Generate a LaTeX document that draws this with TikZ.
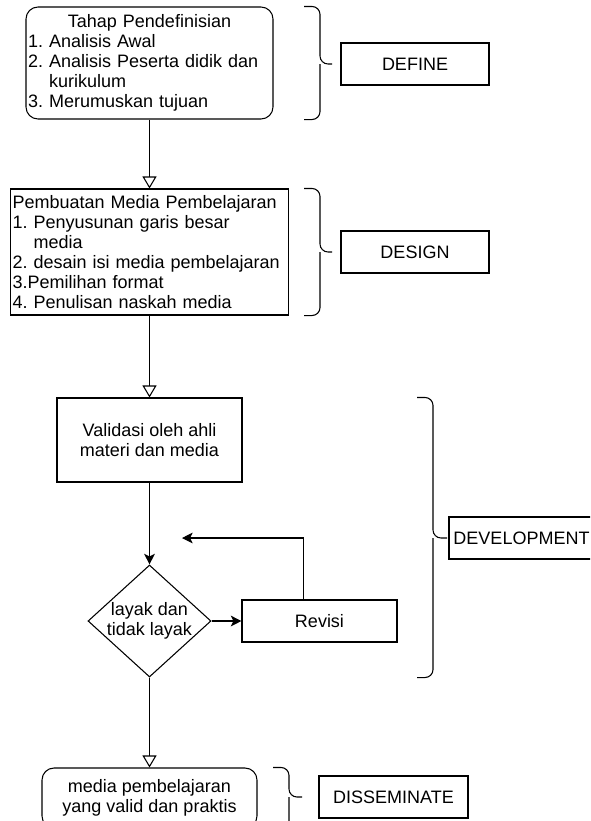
\documentclass[tikz,border=0pt]{standalone}
\usepackage{fontspec}
\setmainfont{Liberation Sans}
\frenchspacing
\usetikzlibrary{arrows.meta, shapes.geometric, calc}

\begin{document}
\begin{tikzpicture}[
  x=0.75pt, y=-0.75pt,
  font=\fontsize{13.5}{15}\selectfont,
  stagebox/.style={draw, line width=0.8pt, inner sep=1.5pt},
  phasebox/.style={draw, line width=0.8pt, minimum width=111pt, minimum height=31.5pt},
  decision/.style={draw, diamond, line width=0.8pt, inner sep=0pt},
  openarrow/.style={-{Triangle[open, width=10.5pt, length=9pt]}, line width=0.8pt},
  solidarrow/.style={-{Stealth[width=8pt, length=8pt, inset=2pt]}, line width=0.8pt},
  curly/.style={rounded corners=6pt, line width=0.8pt}]
    \path[use as bounding box, clip] (0,0) rectangle (590,821);
    % Main column: the four stages
    \node[stagebox, rounded corners=9pt, minimum width=185.25pt, minimum height=84pt,
      text width=182.25pt, align=left] (define) at (149.5,63)
      {\makebox[\linewidth]{Tahap Pendefinisian}\\
       1. Analisis Awal\\
       2. Analisis Peserta didik dan\\
       \hphantom{2. }kurikulum\\
       3. Merumuskan tujuan};
    \node[stagebox, minimum width=208.5pt, minimum height=94.5pt,
      text width=205.5pt, align=left] (design) at (149.5,252)
      {Pembuatan Media Pembelajaran\\
       1. Penyusunan garis besar\\
       \hphantom{1. }media\\
       2. desain isi media pembelajaran\\
       3.Pemilihan format\\
       4. Penulisan naskah media};
    \node[stagebox, minimum width=138.75pt, minimum height=63pt, align=center] (valid)
      at (149.5,440) {Validasi oleh ahli\\materi dan media};
    \node[decision, minimum width=92.25pt, minimum height=84pt,
      label={[align=center]center:{layak dan\\tidak layak}}] (cek) at (149.5,621) {};
    \node[stagebox, minimum width=116.25pt, minimum height=31.5pt] (revisi)
      at (319.5,621) {Revisi};
    \node[stagebox, rounded corners=9pt, minimum width=161.25pt, minimum height=45pt,
      align=center] (final) at (149.5,798) {media pembelajaran\\yang valid dan praktis};
    \coordinate (back) at (182,538);

    % Flow between the stages
    \draw[openarrow] (define) -- (design);
    \draw[openarrow] (design) -- (valid);
    \draw[solidarrow] (valid) -- (cek);
    \draw[solidarrow] (cek) -- (revisi);
    \draw[solidarrow] ($(revisi.north west)!0.4!(revisi.north east)$) |- (back);
    \draw[openarrow] (cek) -- (final);

    % Phase labels with their braces
    \node[phasebox] (pdefine) at (415,64) {DEFINE};
    \node[phasebox] (pdesign) at (415,252) {DESIGN};
    \node[phasebox, minimum width=108.75pt] (pdevelop) at (521.5,538) {DEVELOPMENT};
    \node[phasebox, minimum width=111.75pt] (pdissem) at (393.5,797) {DISSEMINATE};
    \draw[curly] (304,0 |- define.north) -| (320,0 |- pdefine) -- (332,0 |- pdefine)
                 (304,0 |- define.south) -| (320,0 |- pdefine);
    \draw[curly] (304,0 |- design.north) -| (320,0 |- pdesign) -- (332,0 |- pdesign)
                 (304,0 |- design.south) -| (320,0 |- pdesign);
    \draw[curly] (417,0 |- valid.north) -| (433,0 |- pdevelop) -- (447,0 |- pdevelop)
                 (417,0 |- cek.south) -| (433,0 |- pdevelop);
    \draw[curly] (273,0 |- final.north) -| (289,0 |- pdissem) -- (302,0 |- pdissem)
                 (273,0 |- final.south) -| (289,0 |- pdissem);
\end{tikzpicture}
\end{document}
